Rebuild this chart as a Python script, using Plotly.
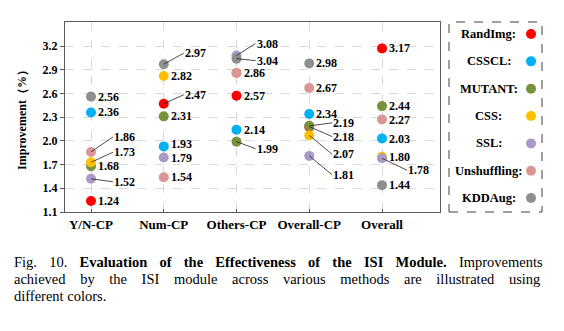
import plotly.graph_objects as go

# ---- data ----
categories = ["Y/N-CP", "Num-CP", "Others-CP", "Overall-CP", "Overall"]
methods = ["RandImg", "CSSCL", "MUTANT", "CSS", "SSL", "Unshuffling", "KDDAug"]
colors = ["#FF0000", "#00B0F0", "#77933C", "#FFC000", "#A99BC5", "#DA9694", "#8F8F8F"]

randimg = [1.24, 2.47, 2.57, 2.18, 3.17]
csscl = [2.36, 1.93, 2.14, 2.34, 2.03]
mutant = [1.68, 2.31, 1.99, 2.19, 2.44]
css = [1.73, 2.82, 2.86, 2.07, 1.80]
ssl = [1.52, 1.79, 3.08, 1.81, 1.78]
unshuffling = [1.86, 1.54, 2.86, 2.67, 2.27]
kddaug = [2.56, 2.97, 3.04, 2.98, 1.44]
series = [randimg, csscl, mutant, css, ssl, unshuffling, kddaug]

y_ticks = [1.1, 1.4, 1.7, 2.0, 2.3, 2.6, 2.9, 3.2]

# value labels that use a leader line: (method, category) -> pixel offset of the text
leader = {
    ("Unshuffling", "Y/N-CP"): (22, -15),
    ("CSS", "Y/N-CP"): (22, -10),
    ("SSL", "Y/N-CP"): (22, 3),
    ("KDDAug", "Num-CP"): (20, -11),
    ("RandImg", "Num-CP"): (20, -9),
    ("SSL", "Others-CP"): (19, -12),
    ("KDDAug", "Others-CP"): (19, 2),
    ("MUTANT", "Others-CP"): (19, 7),
    ("MUTANT", "Overall-CP"): (23, -3),
    ("RandImg", "Overall-CP"): (23, 10),
    ("CSS", "Overall-CP"): (23, 19),
    ("SSL", "Overall-CP"): (23, 19),
    ("SSL", "Overall"): (25, 12),
}
# small vertical nudges (pixels) for crowded direct labels
nudge = {("CSSCL", "Num-CP"): 2, ("SSL", "Num-CP"): -1}
no_label = {("Unshuffling", "Others-CP")}

SERIF = "Liberation Serif"
W, H = 564, 331
L, R, T, B = 65, 22, 22, 119.3
plot_w = W - L - R
main_right = 440 - L
legend_left = 449 - L

fig = go.Figure()

for name, color, vals in zip(methods, colors, series):
    fig.add_trace(go.Scatter(
        x=categories, y=vals, mode="markers", name=name,
        marker=dict(size=10, color=color, line=dict(width=0)),
        showlegend=False, xaxis="x", yaxis="y", cliponaxis=False,
    ))

annotations = []
for name, vals in zip(methods, series):
    for cat, v in zip(categories, vals):
        if (name, cat) in no_label:
            continue
        txt = f"{v:.2f}"
        font = dict(family=SERIF, size=12, color="black")
        if (name, cat) in leader:
            ax, ay = leader[(name, cat)]
            annotations.append(dict(
                x=cat, y=v, xref="x", yref="y", text=f"<b>{txt}</b>",
                showarrow=True, arrowhead=0, arrowwidth=0.8, arrowcolor="#222",
                ax=ax, ay=ay, xanchor="left", yanchor="middle",
                standoff=0, startstandoff=0, font=font, borderpad=0,
            ))
        else:
            annotations.append(dict(
                x=cat, y=v, xref="x", yref="y", text=f"<b>{txt}</b>",
                showarrow=False, xanchor="left", yanchor="middle",
                xshift=6, yshift=nudge.get((name, cat), 0), font=font, borderpad=0,
            ))

# legend panel: names and dots on their own small axes
legend_rows = list(range(len(methods)))
fig.add_trace(go.Scatter(
    x=[0.882] * len(methods), y=legend_rows, mode="markers",
    marker=dict(size=10, color=colors), showlegend=False,
    xaxis="x2", yaxis="y2", hoverinfo="skip",
))
for name, row in zip(methods, legend_rows):
    annotations.append(dict(
        x=0.43, y=row, xref="x2", yref="y2", text=f"<b>{name}:</b>",
        showarrow=False, xanchor="center", yanchor="middle",
        font=dict(family=SERIF, size=12.5, color="black"),
    ))

# caption below the chart: one text block, justified through word spacing
line1 = ("Fig. 10. <b>Evaluation of the Effectiveness of the ISI Module.</b> Improvements")
line2 = "achieved by the ISI module across various methods are illustrated using"
line3 = "different colors."
styles = [
    "font-size:14.5px;word-spacing:8.6px",
    "font-size:14.5px;word-spacing:11px",
    "font-size:14.5px",
]
caption = "<br>".join(f'<span style="{st}">{s}</span>' for s, st in zip((line1, line2, line3), styles))
annotations.append(dict(
    x=(12 - L) / plot_w, y=-(278.5 - (H - B)) / (H - T - B),
    xref="paper", yref="paper", text=caption, showarrow=False, align="left",
    xanchor="left", yanchor="middle",
    font=dict(family=SERIF, size=13, color="black"),
))

shapes = [dict(
    type="rect", xref="x2 domain", yref="y2 domain", x0=0, x1=1, y0=0, y1=1,
    line=dict(color="#404040", width=1, dash="dash"), fillcolor="rgba(0,0,0,0)",
)]

fig.update_layout(
    width=W, height=H,
    margin=dict(l=L, r=R, t=T, b=B),
    paper_bgcolor="white", plot_bgcolor="white",
    annotations=annotations, shapes=shapes,
    xaxis=dict(
        domain=[0, main_right / plot_w],
        type="category", range=[-26 / 72.75, (main_right - 26) / 72.75],
        showgrid=True, gridcolor="#d9d9d9", griddash="dash", gridwidth=1,
        showline=True, linecolor="#595959", linewidth=1, mirror=True,
        ticks="inside", ticklen=3, tickcolor="#595959",
        tickfont=dict(family=SERIF, size=13, color="black"),
        tickprefix="<b>", ticksuffix="</b>",
        zeroline=False,
    ),
    yaxis=dict(
        range=[1.1, 3.504], tickvals=y_ticks,
        ticktext=[f"<b>{t:.1f}</b>" for t in y_ticks],
        showgrid=True, gridcolor="#d9d9d9", griddash="dash", gridwidth=1,
        showline=True, linecolor="#595959", linewidth=1, mirror=True,
        ticks="outside", ticklen=4, tickcolor="#595959",
        tickfont=dict(family=SERIF, size=12, color="black"), zeroline=False,
        title=dict(text="<b>Improvement（%）</b>", font=dict(family=SERIF, size=12, color="black"), standoff=13),
    ),
    xaxis2=dict(
        domain=[legend_left / plot_w, 1], range=[0, 1], anchor="y2",
        showgrid=False, zeroline=False, showticklabels=False, showline=False,
    ),
    yaxis2=dict(
        domain=[0, 1], range=[6.51, -0.44], anchor="x2",
        showgrid=False, zeroline=False, showticklabels=False, showline=False,
    ),
)

fig.write_html("out.html")
